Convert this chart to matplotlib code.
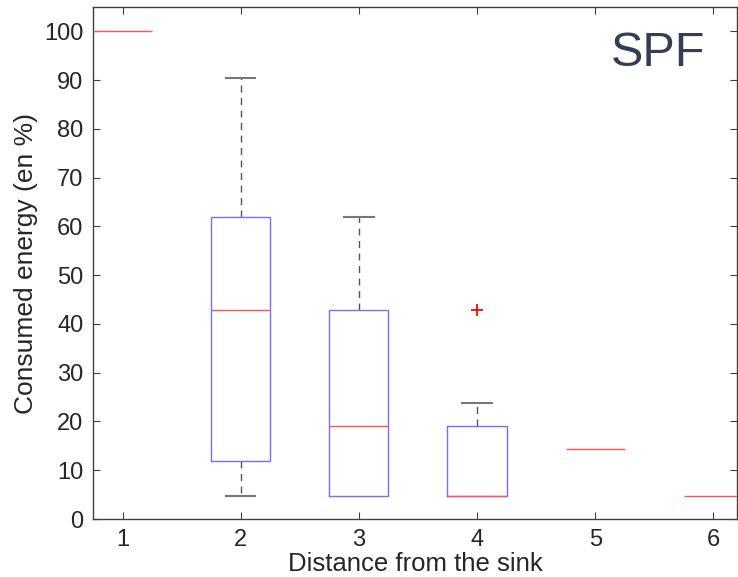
import matplotlib
matplotlib.use("Agg")
import matplotlib.pyplot as plt

plt.rcParams['font.family'] = ['Liberation Sans', 'DejaVu Sans']

# Data (percent of consumed energy)
positions = [1, 2, 3, 4, 5, 6]
whislo = [100.0, 4.76, 4.76, 4.76, 14.29, 4.76]
q1 = [100.0, 11.90, 4.76, 4.76, 14.29, 4.76]
med = [100.0, 42.86, 19.05, 4.76, 14.29, 4.76]
q3 = [100.0, 61.90, 42.86, 19.05, 14.29, 4.76]
whishi = [100.0, 90.48, 61.90, 23.81, 14.29, 4.76]
fliers = [[], [], [], [42.86], [], []]
xticks = [1, 2, 3, 4, 5, 6]
yticks = [0, 10, 20, 30, 40, 50, 60, 70, 80, 90, 100]

stats = []
for i in range(len(positions)):
    stats.append(dict(med=med[i], q1=q1[i], q3=q3[i], whislo=whislo[i],
                      whishi=whishi[i], fliers=fliers[i]))

fig = plt.figure(figsize=(7.38, 5.77), dpi=100)
ax = fig.add_axes([93/738, 1-519/577, (737-93)/738, (519-7)/577])

art = ax.bxp(stats, positions=positions, widths=0.5, showfliers=True,
             boxprops=dict(color='#7070ff', linewidth=1.0, zorder=3),
             medianprops=dict(color='#ff5555', linewidth=1.0, zorder=4),
             whiskerprops=dict(color='#555555', linewidth=1.0, linestyle=(0, (5, 4)), zorder=1),
             capprops=dict(color='#777777', linewidth=1.5, zorder=1),
             capwidths=0.25,
             flierprops=dict(marker='+', markeredgecolor='red', markersize=8,
                             markeredgewidth=1.3, linestyle='none'))

# hide caps/whiskers where the whisker coincides with the box edge
for i in range(len(positions)):
    if whislo[i] == q1[i]:
        art['caps'][2 * i].set_visible(False)
        art['whiskers'][2 * i].set_visible(False)
    if whishi[i] == q3[i]:
        art['caps'][2 * i + 1].set_visible(False)
        art['whiskers'][2 * i + 1].set_visible(False)
    if q1[i] == q3[i]:
        art['boxes'][i].set_visible(False)

ax.set_xlim(0.75, 6.2)
ax.set_ylim(0, 105)
ax.set_xticks(xticks)
ax.set_xticklabels([str(t) for t in xticks])
ax.set_yticks(yticks)
ax.tick_params(direction='in', top=True, right=True, length=5, width=0.8,
               labelsize=17, pad=7, colors='#404040', labelcolor='#262626')
for s in ax.spines.values():
    s.set_color('#404040')
    s.set_linewidth(1.0)

ax.set_xlabel('Distance from the sink', fontsize=18.5, color='#262626', labelpad=1)
ax.set_ylabel('Consumed energy (en %)', fontsize=19, color='#262626', labelpad=4)

ax.text(0.878, 0.953, 'SPF', transform=ax.transAxes, fontsize=35,
        color='#323e52', ha='center', va='top')

fig.savefig('out.png', dpi=100)
